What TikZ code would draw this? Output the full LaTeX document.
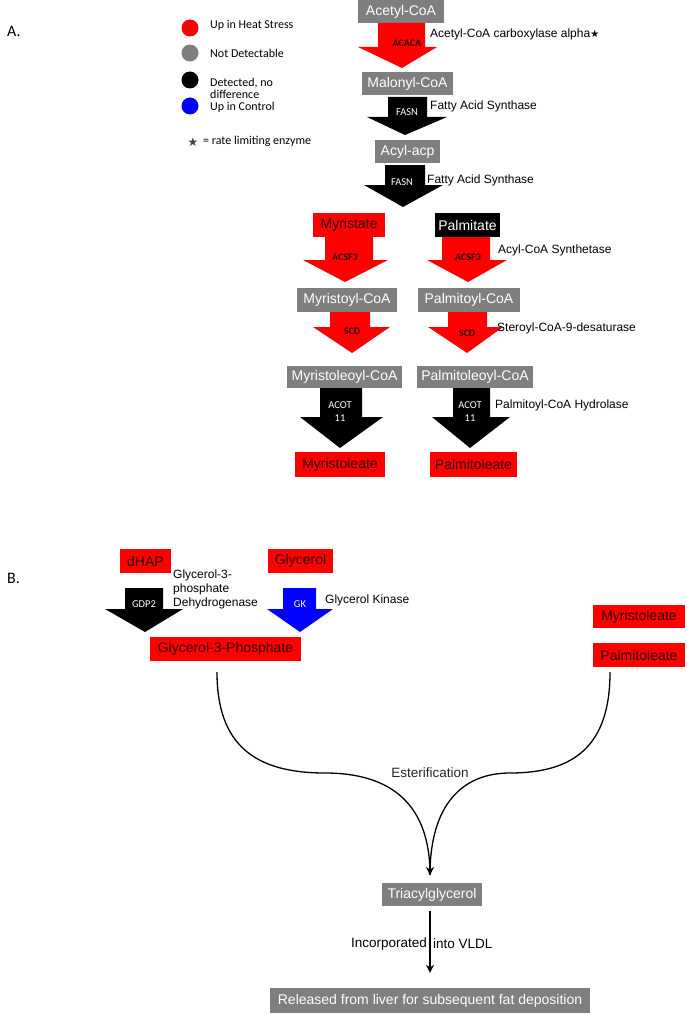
\documentclass[tikz,border=0pt]{standalone}
\usepackage{fontspec}
\setmainfont{Liberation Sans}
\newfontfamily\calib{Carlito}
\newfontfamily\dejavu{DejaVu Sans}
\usetikzlibrary{arrows.meta}
\definecolor{boxgrey}{RGB}{127,127,127}
\definecolor{hotred}{RGB}{255,0,0}
\definecolor{ctrlblue}{RGB}{0,0,255}
\definecolor{redtext}{RGB}{45,0,0}
\newcommand{\blockarrow}[9]{%
  % #1 shaft left, #2 shaft right, #3 top y, #4 head left, #5 head right, #6 head y, #7 tip x, #8 tip y, #9 colour
  \fill[#9] (#1,#3) -- (#2,#3) -- (#2,#6) -- (#5,#6) -- (#7,#8) -- (#4,#6) -- (#1,#6) -- cycle;}
\begin{document}
\begin{tikzpicture}[x=1pt,y=-1pt,
  metab/.style={rectangle, inner sep=0pt, font=\fontsize{14}{14}\selectfont},
  greybox/.style={metab, fill=boxgrey, text=white},
  redbox/.style={metab, fill=hotred, text=redtext},
  blackbox/.style={metab, fill=black, text=white},
  enzw/.style={font=\calib\fontsize{10.5}{12}\selectfont, text=white, inner sep=0pt, align=center},
  enzr/.style={font=\calib\bfseries\fontsize{10}{12}\selectfont, text=redtext, inner sep=0pt},
  lbl/.style={font=\fontsize{12}{14}\selectfont, inner sep=0pt, anchor=west, align=left},
  leg/.style={font=\calib\fontsize{12}{12}\selectfont, inner sep=0pt, anchor=west, align=left},
  dot/.style={circle, minimum size=17pt, inner sep=0pt}
]
\useasboundingbox (0,0) rectangle (686,1014);

% ---------- panel labels ----------
\node[font=\calib\fontsize{16}{16}\selectfont, anchor=west, inner sep=0pt] (A) at (7,31) {A.};
\node[font=\calib\fontsize{16}{16}\selectfont, anchor=west, inner sep=0pt] (B) at (7,578) {B.};

% ---------- legend ----------
\node[dot, fill=hotred] (d1) at (190,28) {};
\node[dot, fill=boxgrey] (d2) at (190,53) {};
\node[dot, fill=black] (d3) at (190,80) {};
\node[dot, fill=ctrlblue] (d4) at (190,106) {};
\node[leg] (l1) at (210,25) {Up in Heat Stress};
\node[leg] (l2) at (210,53) {Not Detectable};
\node[leg, align=left] (l3) at (210,88) {Detected, no\\difference};
\node[leg] (l4) at (210,107) {Up in Control};
\node[font=\dejavu\fontsize{12}{12}\selectfont, text=black!75, inner sep=0pt] (st) at (193,142) {★};
\node[leg] (l5) at (203,141) {= rate limiting enzyme};

% ---------- panel A: boxes ----------
\node[greybox, minimum width=86pt, minimum height=23pt] (acetyl) at (401,11.5) {Acetyl-CoA};
\node[greybox, minimum width=91pt, minimum height=23pt] (malonyl) at (407.5,83.5) {Malonyl-CoA};
\node[greybox, minimum width=65pt, minimum height=23pt] (acyl) at (407.5,151.5) {Acyl-acp};
\node[redbox, minimum width=72pt, minimum height=24pt] (myristate) at (349,225) {Myristate};
\node[blackbox, minimum width=65pt, minimum height=24pt] (palmitate) at (467.5,225) {Palmitate};
\node[greybox, minimum width=100pt, minimum height=24pt] (myrcoa) at (347,300) {Myristoyl-CoA};
\node[greybox, minimum width=102pt, minimum height=24pt] (palcoa) at (469,300) {Palmitoyl-CoA};
\node[greybox, minimum width=115pt, minimum height=22pt] (myrole) at (344.5,377) {Myristoleoyl-CoA};
\node[greybox, minimum width=116pt, minimum height=22pt] (palole) at (475,377) {Palmitoleoyl-CoA};
\node[redbox, minimum width=90pt, minimum height=25pt] (myrate) at (340,464.5) {Myristoleate};
\node[redbox, minimum width=87pt, minimum height=25pt] (palate) at (473.5,464.5) {Palmitoleate};

% ---------- panel A: block arrows ----------
\blockarrow{378}{425}{23}{358}{437}{47}{402}{68}{hotred}
\node[enzr] (e1) at (407,43) {ACACA};
\blockarrow{388}{427}{97}{367}{447}{117}{405}{135}{black}
\node[enzw] (e2) at (407,112) {FASN};
\blockarrow{385}{425}{165}{364}{443}{185}{403}{207}{black}
\node[enzw] (e3) at (402,182) {FASN};
\blockarrow{325}{373}{237}{303}{388}{260}{345}{282}{hotred}
\node[enzr] (e4) at (345,257) {ACSF3};
\blockarrow{442}{490}{237}{427}{507}{260}{468}{282}{hotred}
\node[enzr] (e5) at (468,257) {ACSF3};
\blockarrow{330}{370}{312}{313}{390}{327}{352}{353}{hotred}
\node[enzr] (e6) at (352,331) {SCD};
\blockarrow{448}{487}{312}{428}{503}{327}{467}{353}{hotred}
\node[enzr] (e7) at (467,333) {SCD};
\blockarrow{320}{362}{388}{300}{383}{417}{340}{448}{black}
\node[enzw] (e8) at (340,412) {ACOT\\[1pt]11};
\blockarrow{453}{490}{388}{432}{510}{417}{470}{448}{black}
\node[enzw] (e9) at (470,412) {ACOT\\[1pt]11};

% ---------- panel A: enzyme names ----------
\node[lbl] (n1) at (430,34) {Acetyl-CoA carboxylase alpha{\dejavu\fontsize{10}{10}\selectfont ★}};
\node[lbl] (n2) at (430,106) {Fatty Acid Synthase};
\node[lbl] (n3) at (427,180) {Fatty Acid Synthase};
\node[lbl] (n4) at (498,250) {Acyl-CoA Synthetase};
\node[lbl] (n5) at (497,328) {Steroyl-CoA-9-desaturase};
\node[lbl] (n6) at (495,405) {Palmitoyl-CoA Hydrolase};

% ---------- panel B ----------
\node[redbox, minimum width=51pt, minimum height=24pt] (dhap) at (145.5,561) {dHAP};
\node[redbox, minimum width=65pt, minimum height=24pt] (glycerol) at (300.5,561) {Glycerol};
\blockarrow{125}{163}{588}{105}{183}{609}{145}{632}{black}
\node[enzw] (e10) at (144,604) {GDP2};
\blockarrow{283}{316}{588}{267}{333}{609}{300}{632}{ctrlblue}
\node[enzw] (e11) at (300,604) {GK};
\node[lbl, font=\fontsize{12}{14}\selectfont] (n7) at (173,589) {Glycerol-3-\\phosphate\\Dehydrogenase};
\node[lbl] (n8) at (325,600) {Glycerol Kinase};
\node[redbox, minimum width=151pt, minimum height=24pt] (g3p) at (225.5,649) {Glycerol-3-Phosphate};
\node[redbox, minimum width=92pt, minimum height=23pt] (myrB) at (639,616.5) {Myristoleate};
\node[redbox, minimum width=92pt, minimum height=24pt] (palB) at (639,655) {Palmitoleate};

\node[greybox, minimum width=100pt, minimum height=23pt] (tag) at (432,894.5) {Triacylglycerol};
\node[greybox, minimum width=320pt, minimum height=25pt] (rel) at (430,1000.5) {Released from liver for subsequent fat deposition};

\coordinate (meet) at (430,875);
\draw[line width=1.3pt] ([xshift=-8.5pt,yshift=-11pt]g3p.south) .. controls (217,745) and (255,773) .. (325,773)
   .. controls (392,773) and (430,805) .. (meet);
\draw[line width=1.3pt] ([xshift=-29pt,yshift=-5pt]palB.south) .. controls (610,745) and (575,773) .. (510,773)
   .. controls (462,773) and (430,805) .. (meet);
\draw[line width=1.3pt, -{Stealth[length=8pt,width=8pt]}] (430,858) -- (meet);
\node[font=\fontsize{13.5}{14}\selectfont, text=black!85, inner sep=0pt] (ester) at (430,773) {Esterification};

\draw[line width=1.3pt, -{Stealth[length=8pt,width=8pt]}] ([xshift=-2pt,yshift=-5pt]tag.south) -- ([yshift=15pt]rel.north);
\node[font=\fontsize{13.5}{14}\selectfont, anchor=east, inner sep=0pt] (inc) at (427,944) {Incorporated};
\node[font=\fontsize{13.5}{14}\selectfont, anchor=west, inner sep=0pt] (vldl) at (433,944) {into VLDL};
\end{tikzpicture}
\end{document}
